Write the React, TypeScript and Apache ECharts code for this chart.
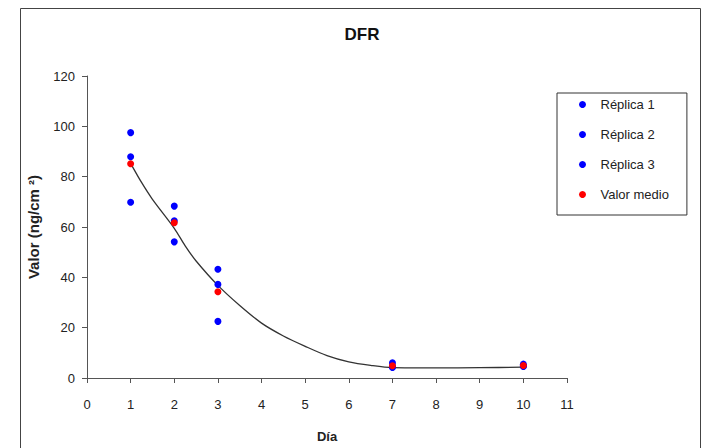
import React, { useEffect, useRef } from "react";
import * as echarts from "echarts";

const titleText = "DFR";
const xAxisName = "Día";
const yAxisName = "Valor (ng/cm ²)";

const days = [1, 2, 3, 7, 10];
const replica1 = [97.5, 68.3, 43.2, 6.0, 5.5];
const replica2 = [87.9, 62.5, 37.2, 4.2, 4.8];
const replica3 = [69.8, 54.1, 22.5, 4.5, 4.6];
const valorMedio = [85.1, 61.7, 34.3, 4.9, 5.0];

const trendX = [1, 1.25, 1.5, 2, 2.25, 2.5, 3, 3.5, 4, 4.5, 5, 5.5, 6, 6.5, 7, 8, 9, 10];
const trendY = [85.3, 77.7, 71, 59.5, 52.5, 46.5, 36.8, 28.8, 21.8, 16.7, 12.6, 8.9, 6.4, 5.0, 4.1, 4.0, 4.1, 4.3];

const seriesNames = ["Réplica 1", "Réplica 2", "Réplica 3", "Valor medio"];

const FONT = "'Liberation Sans', Arial, sans-serif";

export default function App() {
  const ref = useRef<HTMLDivElement>(null);
  useEffect(() => {
    if (!ref.current) return;
    const chart = echarts.init(ref.current, null, { renderer: "svg" });
    const pairs = (ys: number[]) => days.map((d, i) => [d, ys[i]]);
    const scatter = (name: string, ys: number[], color: string, z: number) => ({
      name,
      type: "scatter",
      data: pairs(ys),
      symbolSize: 7,
      itemStyle: { color, opacity: 1 },
      z,
    });
    chart.setOption({
      animation: false,
      backgroundColor: "#ffffff",
      textStyle: { fontFamily: FONT },
      graphic: [
        {
          type: "rect",
          shape: { x: 20.5, y: 8.5, width: 680, height: 460 },
          style: { fill: "#ffffff", stroke: "#444444", lineWidth: 1 },
          z: -10,
          silent: true,
        },
      ],
      title: {
        text: titleText,
        left: 357,
        top: 21,
        textAlign: "center",
        textStyle: { fontFamily: FONT, fontSize: 17, fontWeight: "bold", color: "#111" },
      },
      legend: {
        orient: "vertical",
        left: 557,
        top: 93,
        data: seriesNames,
        icon: "circle",
        itemWidth: 26,
        itemHeight: 7,
        itemGap: 17,
        padding: [5, 18, 14, 22],
        borderColor: "#333",
        borderWidth: 1,
        backgroundColor: "#fff",
        textStyle: { fontFamily: FONT, fontSize: 13, color: "#222" },
      },
      grid: { left: 87, top: 76, width: 480, height: 305 },
      xAxis: {
        type: "value",
        min: 0,
        max: 11,
        interval: 1,
        name: xAxisName,
        nameLocation: "middle",
        nameGap: 52,
        nameTextStyle: { fontFamily: FONT, fontSize: 13, fontWeight: "bold", color: "#222" },
        axisLine: { show: true, onZero: false, lineStyle: { color: "#555", width: 1 } },
        axisTick: { show: true, length: 5, lineStyle: { color: "#555" } },
        axisLabel: { margin: 20, fontFamily: FONT, fontSize: 13, color: "#222" },
        splitLine: { show: false },
      },
      yAxis: {
        type: "value",
        min: 0,
        max: 120,
        interval: 20,
        name: yAxisName,
        nameLocation: "middle",
        nameRotate: 90,
        nameGap: 46,
        nameTextStyle: { fontFamily: FONT, fontSize: 15, fontWeight: "bold", color: "#222" },
        axisLine: { show: true, onZero: false, lineStyle: { color: "#555", width: 1 } },
        axisTick: { show: true, length: 5, lineStyle: { color: "#555" } },
        axisLabel: { margin: 12, fontFamily: FONT, fontSize: 13, color: "#222" },
        splitLine: { show: false },
      },
      series: [
        {
          name: "Tendencia",
          type: "line",
          data: trendX.map((x, i) => [x, trendY[i]]),
          showSymbol: false,
          smooth: 0.3,
          silent: true,
          lineStyle: { color: "#333", width: 1.3 },
          z: 1,
        },
        scatter(seriesNames[0], replica1, "#0000ff", 2),
        scatter(seriesNames[1], replica2, "#0000ff", 2),
        scatter(seriesNames[2], replica3, "#0000ff", 2),
        scatter(seriesNames[3], valorMedio, "#ff0000", 3),
      ],
    });
    return () => chart.dispose();
  }, []);
  return (
    <div
      ref={ref}
      style={{ position: "fixed", left: 0, top: 0, width: 705, height: 448, background: "#fff" }}
    />
  );
}
